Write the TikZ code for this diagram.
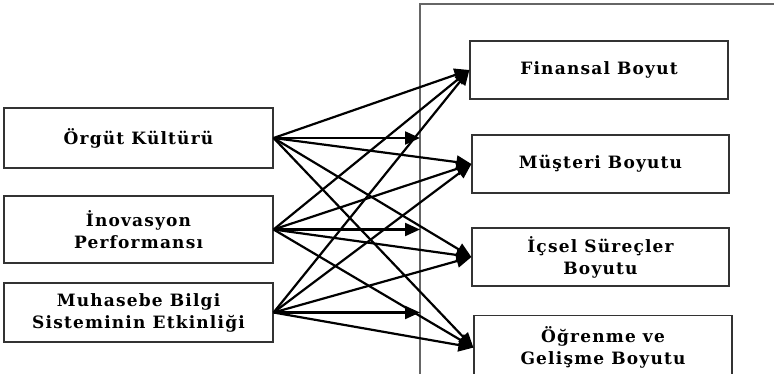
\documentclass[tikz,border=0pt]{standalone}
\usepackage{fontspec}
\setmainfont{DejaVu Serif}
\usetikzlibrary{arrows.meta}

\begin{document}
\begin{tikzpicture}[x=1pt,y=-1pt,
    box/.style={draw=black!80,line width=1.2pt,inner sep=0pt,align=center,
        font=\bfseries\fontsize{17}{22}\selectfont\addfontfeature{LetterSpace=7}},
    link/.style={-{Triangle[length=15pt,width=13pt]},line width=2.2pt},
    frame/.style={draw=black!60,line width=1.8pt}]
\useasboundingbox (0,0) rectangle (774,374);
\clip (0,0) rectangle (774,374);

    % left side
    \node[box,minimum width=269,minimum height=60] (org) at (138.5,138)   {Örgüt Kültürü};
    \node[box,minimum width=269,minimum height=67] (ino) at (138.5,229.5) {İnovasyon\\Performansı};
    \node[box,minimum width=269,minimum height=59] (mbs) at (138.5,312.5) {Muhasebe Bilgi\\Sisteminin Etkinliği};

    % right side
    \node[box,minimum width=258,minimum height=58] (fin) at (599,70)    {Finansal Boyut};
    \node[box,minimum width=257,minimum height=58] (mus) at (600.5,164) {Müşteri Boyutu};
    \node[box,minimum width=257,minimum height=58] (ics) at (600.5,257) {İçsel Süreçler\\Boyutu};
    \node[box,minimum width=258,minimum height=64,anchor=north] (ogr) at (603,315) {Öğrenme ve\\Gelişme Boyutu};

    \coordinate (frm) at (420,4);
    \draw[frame] (774,4) -- (frm) -- (420,374);

    \path[link] (org.east) edge (fin.west) edge (mus.west) edge (ics.west) edge (ogr.west)
                           edge (org.east -| frm)
                (ino.east) edge (fin.west) edge (mus.west) edge (ics.west) edge (ogr.west)
                           edge (ino.east -| frm)
                (mbs.east) edge (fin.west) edge (mus.west) edge (ics.west) edge (ogr.west)
                           edge (mbs.east -| frm)
    ;
\end{tikzpicture}
\end{document}
